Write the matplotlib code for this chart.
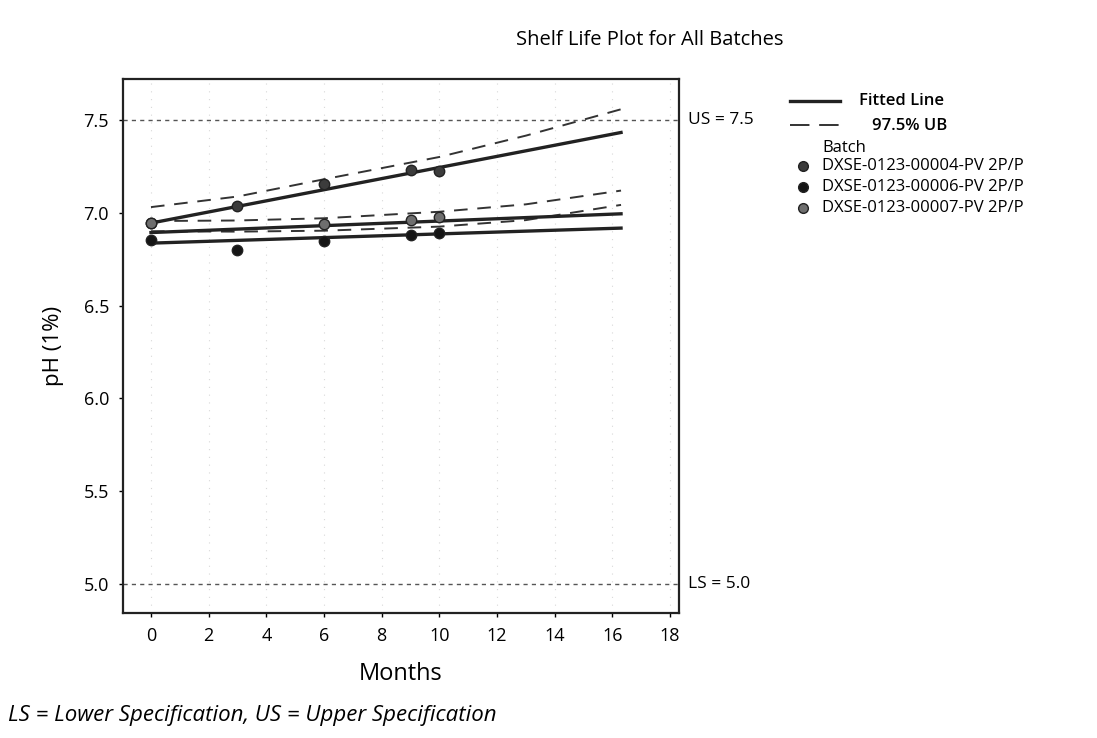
import numpy as np
import matplotlib
matplotlib.use("Agg")
import matplotlib.pyplot as plt
from matplotlib.lines import Line2D

plt.rcParams['font.family'] = ['Open Sans', 'DejaVu Sans']

# Observed pH values per batch
batches = ["DXSE-0123-00004-PV 2P/P", "DXSE-0123-00006-PV 2P/P", "DXSE-0123-00007-PV 2P/P"]
months_obs = [0, 3, 6, 9, 10]
ph_obs = {
    batches[0]: [6.945, 7.037, 7.155, 7.232, 7.222],
    batches[1]: [6.852, 6.800, 6.848, 6.880, 6.890],
    batches[2]: [6.945, np.nan, 6.940, 6.960, 6.975],
}

# fitted lines (start / end values)
fit_months = [0, 16.3]
fit_vals = {
    batches[0]: [6.944, 7.432],
    batches[1]: [6.836, 6.917],
    batches[2]: [6.893, 6.994],
}

# 97.5% upper bound curves
ub_months = [0, 3, 6, 10, 13, 16.3]
ub_vals = {
    batches[0]: [7.030, 7.087, 7.180, 7.300, 7.415, 7.557],
    batches[1]: [6.900, 6.898, 6.903, 6.925, 6.960, 7.042],
    batches[2]: [6.955, 6.958, 6.970, 7.005, 7.045, 7.119],
}

colors = {batches[0]: "#3c3c3c", batches[1]: "#151515", batches[2]: "#6e6e6e"}

us, ls = 7.5, 5.0
xticks = list(range(0, 19, 2))
yticks = [5.0, 5.5, 6.0, 6.5, 7.0, 7.5]

W, H = 1097, 738


def fx(px):
    return px / W


def fy(py):
    return 1 - py / H


fig = plt.figure(figsize=(W / 100, H / 100), dpi=100)
ax = fig.add_axes([fx(123), fy(613), (679 - 123) / W, (613 - 79) / H])

# faint grid like the scan
for xt in xticks:
    ax.axvline(xt, color="#d8d8d8", lw=0.8, ls=(0, (1, 6)), zorder=0)

ax.axhline(us, color="#555555", lw=1.0, ls=(0, (3, 3)), zorder=1)
ax.axhline(ls, color="#555555", lw=1.0, ls=(0, (3, 3)), zorder=1)

ub_style = (0, (7, 5))
for b in batches:
    ax.plot(fit_months, fit_vals[b], color="#222222", lw=2.4, zorder=3)
    ax.plot(ub_months, ub_vals[b], color="#333333", lw=1.4, ls=ub_style, zorder=2)
    ax.plot(months_obs, ph_obs[b], ls="none", marker="o", ms=7.5,
            color=colors[b], markeredgecolor="#222222", zorder=4)

ax.set_xlim(-0.97, 18.31)
ax.set_ylim(4.844, 7.72)
ax.set_xticks(xticks)
ax.set_yticks(yticks)
ax.set_yticklabels([f"{v:.1f}" for v in yticks])
ax.tick_params(direction="out", length=3, width=1, labelsize=13, pad=7)
for s in ax.spines.values():
    s.set_linewidth(1.6)
    s.set_color("#222222")

ax.set_xlabel("Months", fontsize=17, labelpad=12)
ax.set_ylabel("pH (1%)", fontsize=16, labelpad=14)

# spec limit labels just outside the right spine
lab_x = 1 + 9 / (679 - 123)
ax.text(lab_x, us, f"US = {us}", transform=ax.get_yaxis_transform(),
        va="center", ha="left", fontsize=12.5)
ax.text(lab_x, ls, f"LS = {ls}", transform=ax.get_yaxis_transform(),
        va="center", ha="left", fontsize=12.5)

fig.text(fx(650), fy(40), "Shelf Life Plot for All Batches", ha="center", va="center", fontsize=14.5)
fig.text(fx(8), fy(716), "LS = Lower Specification, US = Upper Specification",
         ha="left", va="center", fontsize=16, style="italic")

# legend drawn by hand in figure pixels
fig.add_artist(Line2D([fx(790), fx(840)], [fy(101), fy(101)], color="#222222", lw=2.4,
                      transform=fig.transFigure))
fig.text(fx(859), fy(101), "Fitted Line", ha="left", va="center", fontsize=12, weight="semibold")
fig.add_artist(Line2D([fx(790), fx(840)], [fy(125), fy(125)], color="#333333", lw=1.4,
                      ls=(0, (10, 5)), transform=fig.transFigure))
fig.text(fx(872), fy(126), "97.5% UB", ha="left", va="center", fontsize=12, weight="semibold")
fig.text(fx(822), fy(148), "Batch", ha="left", va="center", fontsize=12)
for i, b in enumerate(batches):
    yy = 166 + 21 * i
    fig.add_artist(Line2D([fx(803)], [fy(yy)], ls="none", marker="o", ms=7, color=colors[b],
                          markeredgecolor="#222222", transform=fig.transFigure))
    fig.text(fx(822), fy(yy), b, ha="left", va="center", fontsize=12)

fig.savefig("out.png", dpi=100)
